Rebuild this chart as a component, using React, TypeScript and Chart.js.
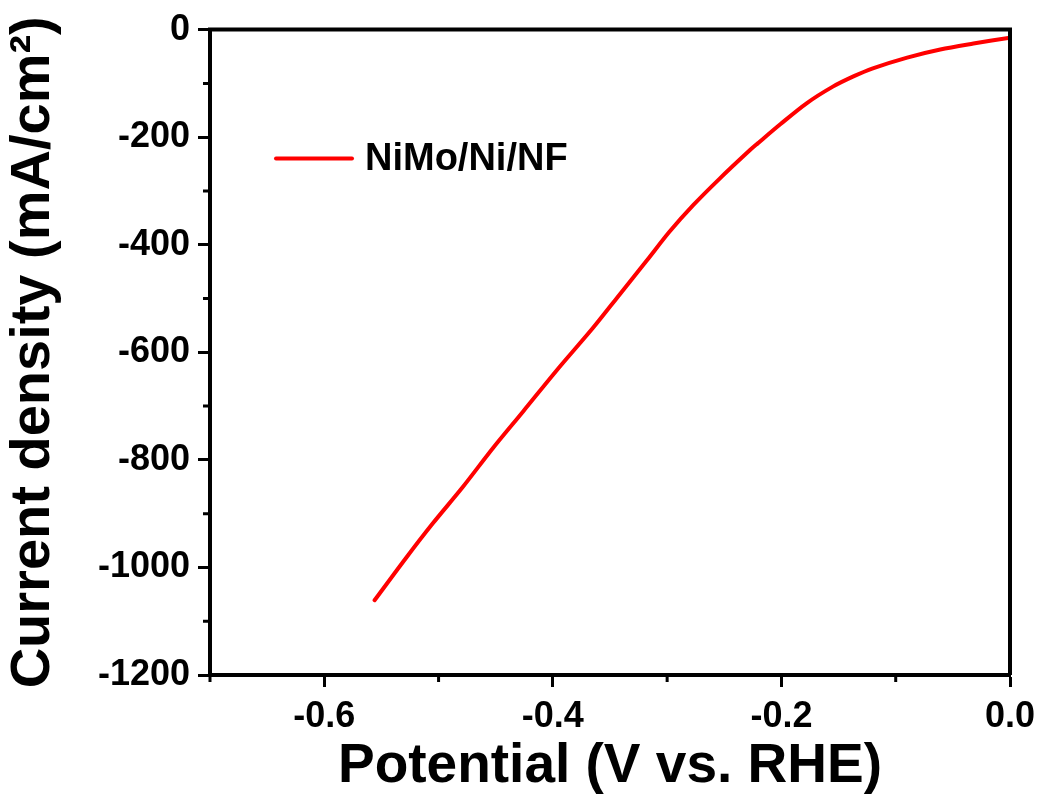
import React, { useEffect, useRef } from "react";
import { Chart, registerables } from "chart.js";

Chart.register(...registerables);

// ---- Data ----
const potential = [
  -0.556, -0.528, -0.505, -0.479, -0.452, -0.426, -0.396, -0.365, -0.341,
  -0.318, -0.298, -0.277, -0.254, -0.2275, -0.221, -0.201, -0.178, -0.155,
  -0.137, -0.12, -0.09, -0.061, -0.032, 0.0,
];
const currentDensity = [
  -1061, -981, -918, -851, -777, -710, -632, -555, -491, -430, -376, -326,
  -277, -224, -212, -176, -137, -106, -87, -72, -52, -37, -26, -15,
];
const seriesLabel = "NiMo/Ni/NF";
const xMajorTicks = [-0.6, -0.4, -0.2, 0.0];
const xMinorTicks = [-0.7, -0.5, -0.3, -0.1];
const yMajorTicks = [0, -200, -400, -600, -800, -1000, -1200];
const yMinorTicks = [-100, -300, -500, -700, -900, -1100];
const xTitle = "Potential (V vs. RHE)";
const yTitle = "Current density (mA/cm²)";

const FONT = "'Liberation Sans', Arial, Helvetica, sans-serif";

const decorPlugin = {
  id: "decor",
  afterDraw(chart: any) {
    const { ctx, chartArea } = chart;
    const { left, right, top, bottom } = chartArea;
    const xs = chart.scales.x;
    const ys = chart.scales.y;
    ctx.save();
    ctx.strokeStyle = "#000";
    // frame top & right
    ctx.lineWidth = 4;
    ctx.beginPath();
    ctx.moveTo(left - 2, top);
    ctx.lineTo(right, top);
    ctx.lineTo(right, bottom);
    ctx.stroke();
    // minor ticks
    ctx.lineWidth = 3;
    ctx.beginPath();
    xMinorTicks.forEach((v) => {
      const px = xs.getPixelForValue(v);
      ctx.moveTo(px, bottom);
      ctx.lineTo(px, bottom + 7);
    });
    yMinorTicks.forEach((v) => {
      const py = ys.getPixelForValue(v);
      ctx.moveTo(left, py);
      ctx.lineTo(left - 7, py);
    });
    ctx.stroke();
    // legend
    const ds = chart.data.datasets[0];
    const ly = top + 129;
    ctx.strokeStyle = ds.borderColor;
    ctx.lineWidth = 4;
    ctx.lineCap = "round";
    ctx.beginPath();
    ctx.moveTo(left + 66, ly);
    ctx.lineTo(left + 142, ly);
    ctx.stroke();
    ctx.fillStyle = "#000";
    ctx.font = `bold 38px ${FONT}`;
    ctx.textAlign = "left";
    ctx.textBaseline = "middle";
    ctx.fillText(ds.label, left + 155, ly + 1);
    // axis titles
    ctx.font = `bold 55px ${FONT}`;
    ctx.textAlign = "center";
    ctx.textBaseline = "middle";
    ctx.fillText(xTitle, (left + right) / 2, bottom + 92);
    ctx.save();
    ctx.translate(34, (top + bottom) / 2);
    ctx.rotate(-Math.PI / 2);
    ctx.font = `bold 56px ${FONT}`;
    ctx.fillText(yTitle, 0, 0);
    ctx.restore();
    ctx.restore();
  },
};

export default function App() {
  const ref = useRef<HTMLCanvasElement>(null);
  useEffect(() => {
    document.body.style.margin = "0";
    const canvas = ref.current!;
    const chart = new Chart(canvas, {
      type: "line",
      data: {
        datasets: [
          {
            label: seriesLabel,
            data: potential.map((x, i) => ({ x, y: currentDensity[i] })),
            borderColor: "#ff0000",
            borderWidth: 4,
            borderCapStyle: "round",
            borderJoinStyle: "round",
            pointRadius: 0,
            fill: false,
            tension: 0.3,
          },
        ],
      },
      options: {
        animation: false,
        responsive: false,
        devicePixelRatio: 1,
        layout: { padding: { top: 28, right: 35, left: 0, bottom: 0 } },
        plugins: {
          legend: { display: false },
          tooltip: { enabled: false },
        },
        scales: {
          x: {
            type: "linear",
            min: -0.7,
            max: 0,
            afterBuildTicks: (s: any) => {
              s.ticks = xMajorTicks.map((v) => ({ value: v }));
            },
            afterFit: (s: any) => {
              s.height = 128;
            },
            grid: {
              drawOnChartArea: false,
              drawTicks: true,
              tickLength: 12,
              tickWidth: 3,
              tickColor: "#000",
            },
            border: { display: true, color: "#000", width: 4 },
            ticks: {
              color: "#000",
              font: { family: FONT, size: 36, weight: "bold" },
              padding: 8,
              maxRotation: 0,
              autoSkip: false,
              callback: (v: any) => Number(v).toFixed(1),
            },
          },
          y: {
            type: "linear",
            min: -1200,
            max: 0,
            afterBuildTicks: (s: any) => {
              s.ticks = yMajorTicks.map((v) => ({ value: v }));
            },
            afterFit: (s: any) => {
              s.width = 210;
            },
            grid: {
              drawOnChartArea: false,
              drawTicks: true,
              tickLength: 12,
              tickWidth: 3,
              tickColor: "#000",
            },
            border: { display: true, color: "#000", width: 4 },
            ticks: {
              color: "#000",
              font: { family: FONT, size: 36, weight: "bold" },
              padding: 8,
              autoSkip: false,
              callback: (v: any) => String(Math.round(Number(v))),
            },
          },
        },
      },
      plugins: [decorPlugin],
    } as any);
    return () => chart.destroy();
  }, []);
  return (
    <canvas
      ref={ref}
      width={1045}
      height={803}
      style={{ display: "block", width: 1045, height: 803 }}
    />
  );
}
